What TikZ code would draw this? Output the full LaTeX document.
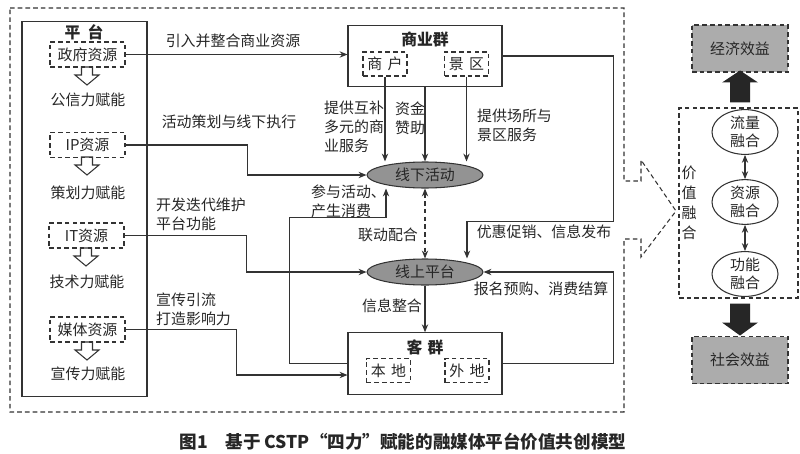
\documentclass[tikz,border=0pt]{standalone}
\usepackage{fontspec}
\setmainfont{Noto Sans CJK SC}
\usetikzlibrary{arrows.meta,positioning,calc,shapes.geometric}

\begin{document}
\begin{tikzpicture}[
    x=0.02cm, y=-0.02cm,
    every node/.style={font=\fontsize{8.5}{10.8}\selectfont, text=black!85},
    line/.style={draw=black!80, line width=0.6pt},
    arr/.style={line, -{Stealth[length=4.5pt, width=3.6pt]}},
    dbl/.style={line, {Stealth[length=4.5pt, width=3.6pt]}-{Stealth[length=4.5pt, width=3.6pt]}},
    dsh/.style={dash pattern=on 2.6pt off 1.8pt},
    resbox/.style={line, dsh, minimum width=1.5cm, minimum height=0.5cm, inner sep=1pt},
    subbox/.style={line, dsh, minimum width=0.88cm, minimum height=0.48cm, inner sep=1pt},
    groupbox/.style={line, minimum width=3.08cm, minimum height=1.23cm},
    hub/.style={line, ellipse, fill=gray!85, minimum width=2.32cm, minimum height=0.52cm, inner sep=0pt},
    fuse/.style={line, ellipse, align=center, minimum width=1.32cm, minimum height=0.78cm, inner sep=0pt, font=\fontsize{8.5}{10.2}\selectfont},
    gain/.style={line, dsh, fill=gray!65, minimum width=1.92cm, minimum height=0.94cm},
    title/.style={font=\fontsize{9}{11}\selectfont\bfseries},
    hollow/.pic={\draw[line] (-5.5,0) -- (5.5,0) -- (5.5,8) -- (12,8) -- (0,18) -- (-12,8) -- (-5.5,8) -- cycle;},
    bigup/.pic={\fill[black!85] (-10,0) -- (-10,-20) -- (-18,-20) -- (0,-32) -- (18,-20) -- (10,-20) -- (10,0) -- cycle;},
    bigdown/.pic={\fill[black!85] (-10,0) -- (-10,19) -- (-18,19) -- (0,32) -- (18,19) -- (10,19) -- (10,0) -- cycle;},
]
\useasboundingbox (0,0) rectangle (800,453);

% --- outer frame with callout ---
\draw[line, dsh] (10,8) -- (624,8) -- (624,181) -- (641,181) -- (641,160) -- (676,211)
    -- (641,257) -- (641,239) -- (624,239) -- (624,412) -- (10,412) -- cycle;

% --- Platform ---
\node[line, minimum width=2.5cm, minimum height=7.52cm] (platform) at (84.5,209) {};
\node[title] (ptitle) at (84,32) {平\hspace{4pt}台};
\node[resbox] (gov) at (87.5,54.5) {政府资源};
\pic at (87,67) {hollow};
\node (govpow) at (88,100) {公信力赋能};
\node[resbox] (ip) at (87.5,145) {IP资源};
\pic at (87,157) {hollow};
\node (ippow) at (88,193) {策划力赋能};
\node[resbox] (it) at (86.5,235.5) {IT资源};
\pic at (86,248) {hollow};
\node (itpow) at (87,282) {技术力赋能};
\node[resbox] (media) at (87.5,329.5) {媒体资源};
\pic at (87,342) {hollow};
\node (mediapow) at (88,374) {宣传力赋能};

% --- Business group ---
\node[groupbox] (biz) at (425,56) {};
\node[title] (biztitle) at (425,39) {商业群};
\node[subbox] (merchant) at (385,64) {商\hspace{3pt}户};
\node[subbox] (scenic) at (466.5,64) {景\hspace{3pt}区};

% --- Client group ---
\node[groupbox] (client) at (425,363.5) {};
\node[title] (clitle) at (425,347) {客\hspace{3pt}群};
\node[subbox] (local) at (388.5,370.5) {本\hspace{3pt}地};
\node[subbox] (remote) at (467,370.5) {外\hspace{3pt}地};

% --- Offline / online hubs ---
\node[hub] (offline) at (425,175) {线下活动};
\node[hub] (online) at (425,272) {线上平台};

% --- Platform to hubs ---
\draw[arr] (gov.east) -- (gov.east -| biz.west);
\node (lbgov) at (233,41) {引入并整合商业资源};
\draw[arr] (ip.east) -- ++(122,0) |- (offline.west);
\node (lbip) at (229,122) {活动策划与线下执行};
\draw[arr] (it.east) -- ++(122,0) |- (online.west);
\node[align=left, anchor=west] (lbit) at (150,214.5) {开发迭代维护\\平台功能};
\draw[arr] (media.east) -- ++(111,0) |- ([yshift=-0.23cm]client.west);
\node[align=left, anchor=west] (lbmedia) at (150,309) {宣传引流\\打造影响力};

% --- Business to offline ---
\draw[arr] (merchant.south) -- (merchant.south |- offline.north);
\node[align=left, anchor=west] (lbmer) at (318,127) {提供互补\\多元的商\\业服务};
\draw[arr] (biz.south) -- (offline.north);
\node[align=center] (lbfund) at (410,118) {资金\\赞助};
\draw[arr] (scenic.south) -- (scenic.south |- offline.north);
\node[align=left, anchor=west] (lbsce) at (471,125) {提供场所与\\景区服务};

% --- Client loop ---
\draw[arr] (client.west) -- ++(-58,0) |- ([xshift=-0.78cm,yshift=-0.58cm]offline.south)
    -- ([xshift=-0.78cm]offline.south);
\node[align=left, anchor=west] (lbjoin) at (305,201) {参与活动、\\产生消费};
\draw[dbl, dsh] (offline.south) -- (online.north);
\node (lblink) at (388,235) {联动配合};
\draw[arr] (online.south) -- (client.north);
\node (lbinfo) at (392,306) {信息整合};
\draw[arr] (biz.east) -- ++(111,0) |- ([xshift=0.84cm,yshift=0.74cm]online.north)
    -- ([xshift=0.84cm]online.north);
\node (lbpromo) at (544,232) {优惠促销、信息发布};
\draw[arr] (client.east) -- ++(111,0) |- (online.east);
\node (lbbook) at (541,289) {报名预购、消费结算};

% --- Value fusion ---
\node[gain] (econ) at (740,48.5) {经济效益};
\node[gain] (social) at (740,360) {社会效益};
\node[line, dsh, minimum width=2.38cm, minimum height=3.8cm] (value) at (738.5,203) {};
\node[align=center, font=\fontsize{8.5}{11.3}\selectfont] (vlabel) at (689,203) {价\\值\\融\\合};
\node[fuse] (flow) at (745,132) {流量\\融合};
\node[fuse] (share) at (745,202) {资源\\融合};
\node[fuse] (func) at (745,274) {功能\\融合};
\draw[dbl] (flow) -- (share);
\draw[dbl] (share) -- (func);
\pic at ([xshift=0.03cm,yshift=0.1cm]value.north) {bigup};
\pic at ([xshift=0.03cm,yshift=-0.1cm]value.south) {bigdown};

% --- caption ---
\node[font=\fontsize{10}{12}\selectfont\bfseries] (caption) at (403,442)
    {图1\hspace{1em}基于 CSTP“四力”赋能的融媒体平台价值共创模型};
\end{tikzpicture}
\end{document}
